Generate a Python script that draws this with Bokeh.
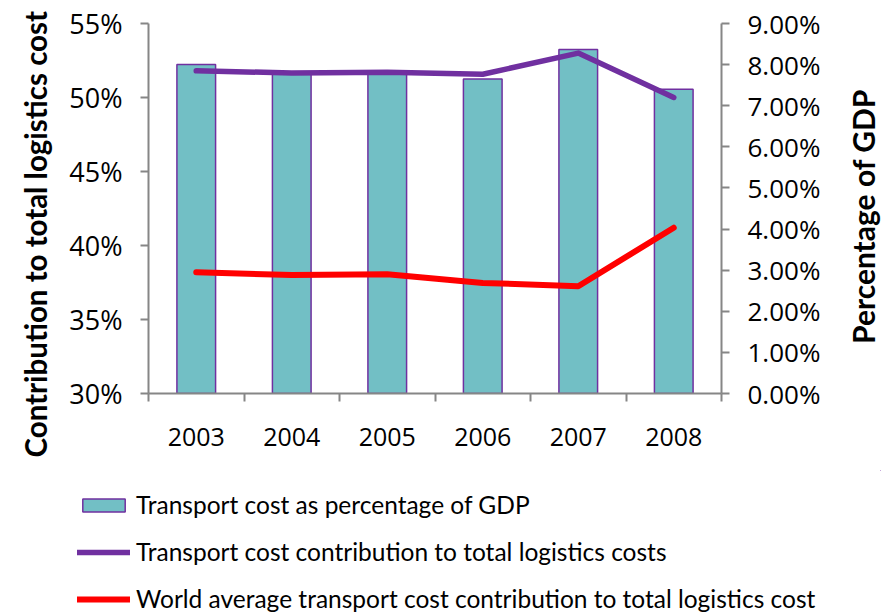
import math
from bokeh.plotting import figure
from bokeh.layouts import column, row
from bokeh.models import (Range1d, LinearAxis, FixedTicker, PrintfTickFormatter,
                          Legend, LegendItem, Title, Label, ColumnDataSource)
from bokeh.embed import file_html
from bokeh.resources import INLINE

years = ["2003", "2004", "2005", "2006", "2007", "2008"]
gdp_share = [8.0, 7.82, 7.8, 7.65, 8.37, 7.4]          # % of GDP (right axis)
transport_contrib = [51.8, 51.66, 51.7, 51.57, 53.0, 50.0]  # % (left axis)
world_avg = [38.2, 38.0, 38.06, 37.47, 37.25, 41.2]        # % (left axis)
left_ticks = [30, 35, 40, 45, 50, 55]
right_ticks = [0, 1, 2, 3, 4, 5, 6, 7, 8, 9]
series_names = ["Transport cost as percentage of GDP",
                "Transport cost contribution to total logistics costs",
                "World average transport cost contribution to total logistics cost"]
left_title = "Contribution to total logistics cost"
right_title = "Percentage of GDP"

xs = [i + 1 for i in range(len(years))]
src = ColumnDataSource(dict(x=xs, gdp=gdp_share, tc=transport_contrib, wa=world_avg))

AXIS = "#868686"
TEAL = "#72BFC5"
PURPLE = "#7030A0"
RED = "#FF0000"

p = figure(width=840, height=470, output_backend="svg", toolbar_location=None,
           x_range=Range1d(0.5, len(years) + 0.5), y_range=Range1d(30, 55),
           min_border_left=148, min_border_right=119, min_border_top=23,
           min_border_bottom=77, x_axis_location=None, y_axis_location=None)
p.outline_line_color = None
p.grid.visible = False
p.background_fill_color = "white"
p.border_fill_color = "white"
p.extra_y_ranges = {"gdp": Range1d(0, 9)}

bar_style = dict(fill_color=TEAL, line_color=PURPLE, line_width=1.5)
tc_style = dict(line_color=PURPLE, line_width=5.5, line_cap="round", line_join="round")
wa_style = dict(line_color=RED, line_width=6, line_cap="round", line_join="round")

p.vbar(x="x", top="gdp", bottom=0, width=0.405, source=src, y_range_name="gdp", **bar_style)
p.line(x="x", y="tc", source=src, **tc_style)
p.line(x="x", y="wa", source=src, **wa_style)

def style_axis(ax):
    ax.axis_line_color = AXIS
    ax.axis_line_width = 2
    ax.major_tick_line_color = AXIS
    ax.major_tick_line_width = 2
    ax.minor_tick_line_color = AXIS
    ax.minor_tick_line_width = 2
    ax.major_tick_in = 0
    ax.minor_tick_in = 0
    ax.major_label_text_font = "Open Sans"
    ax.major_label_text_color = "#000000"

# left axis
la = LinearAxis(ticker=FixedTicker(ticks=left_ticks), formatter=PrintfTickFormatter(format="%d%%"))
style_axis(la)
la.major_tick_out = 8
la.minor_tick_out = 0
la.major_label_standoff = 18
la.major_label_text_font_size = "27px"
p.add_layout(la, "left")

# left title
p.add_layout(Title(text=left_title, align="left", offset=-64,
                   vertical_align="middle", standoff=26, text_font="Lato",
                   text_font_style="bold", text_font_size="29.5px", text_color="#000000"),
             "left")

# right axis
ra = LinearAxis(y_range_name="gdp", ticker=FixedTicker(ticks=right_ticks),
                formatter=PrintfTickFormatter(format="%.2f%%"))
style_axis(ra)
ra.major_tick_out = 8
ra.minor_tick_out = 0
ra.major_label_standoff = 18
ra.major_label_text_font_size = "26px"
p.add_layout(ra, "right")

# bottom axis: labels at category centres, ticks between categories
bounds = [i + 0.5 for i in range(len(years) + 1)]
ba = LinearAxis(ticker=FixedTicker(ticks=xs, minor_ticks=bounds))
style_axis(ba)
ba.major_tick_out = 0
ba.minor_tick_out = 8
ba.major_label_standoff = 26
ba.major_label_text_font_size = "25px"
ba.major_label_overrides = {x: y for x, y in zip(xs, years)}
p.add_layout(ba, "below")

# right-hand title strip (reads bottom to top)
r = figure(width=41, height=470, output_backend="svg", toolbar_location=None,
           x_range=Range1d(0, 1), y_range=Range1d(0, 1),
           min_border_left=0, min_border_right=0, min_border_top=0, min_border_bottom=0,
           x_axis_location=None, y_axis_location=None)
r.outline_line_color = None
r.grid.visible = False
r.border_fill_color = "white"
r.add_layout(Label(x=22, y=177, x_units="screen", y_units="screen", text=right_title,
                   angle=math.pi / 2, text_align="center", text_baseline="middle",
                   text_font="Lato", text_font_style="bold", text_font_size="30px",
                   text_color="#000000"))

# legend strip
q = figure(width=881, height=143, output_backend="svg", toolbar_location=None,
           x_range=Range1d(-2, -1), y_range=Range1d(-2, -1),
           min_border_left=0, min_border_right=0, min_border_top=0, min_border_bottom=0,
           x_axis_location=None, y_axis_location=None)
q.frame_align = False
q.outline_line_color = None
q.grid.visible = False
q.border_fill_color = "white"
rb = q.vbar(x="x", top="gdp", width=0.405, source=src, **bar_style)
r1 = q.line(x="x", y="tc", source=src, **tc_style)
r2 = q.line(x="x", y="wa", source=src, **wa_style)

legend = Legend(items=[LegendItem(label=n, renderers=[g]) for n, g in zip(series_names, [rb, r1, r2])],
                location=(77, 0), orientation="vertical")
legend.glyph_width = 53
legend.glyph_height = 16
legend.label_standoff = 6
legend.label_height = 24
legend.spacing = 18
legend.padding = 0
legend.margin = 0
legend.border_line_color = None
legend.background_fill_alpha = 0
legend.label_text_font = "Lato"
legend.label_text_font_size = "24.5px"
legend.label_text_color = "#000000"
q.add_layout(legend, "center")

layout = column(row(p, r, spacing=0), q, spacing=0)
open("out.html", "w").write(file_html(layout, INLINE))
